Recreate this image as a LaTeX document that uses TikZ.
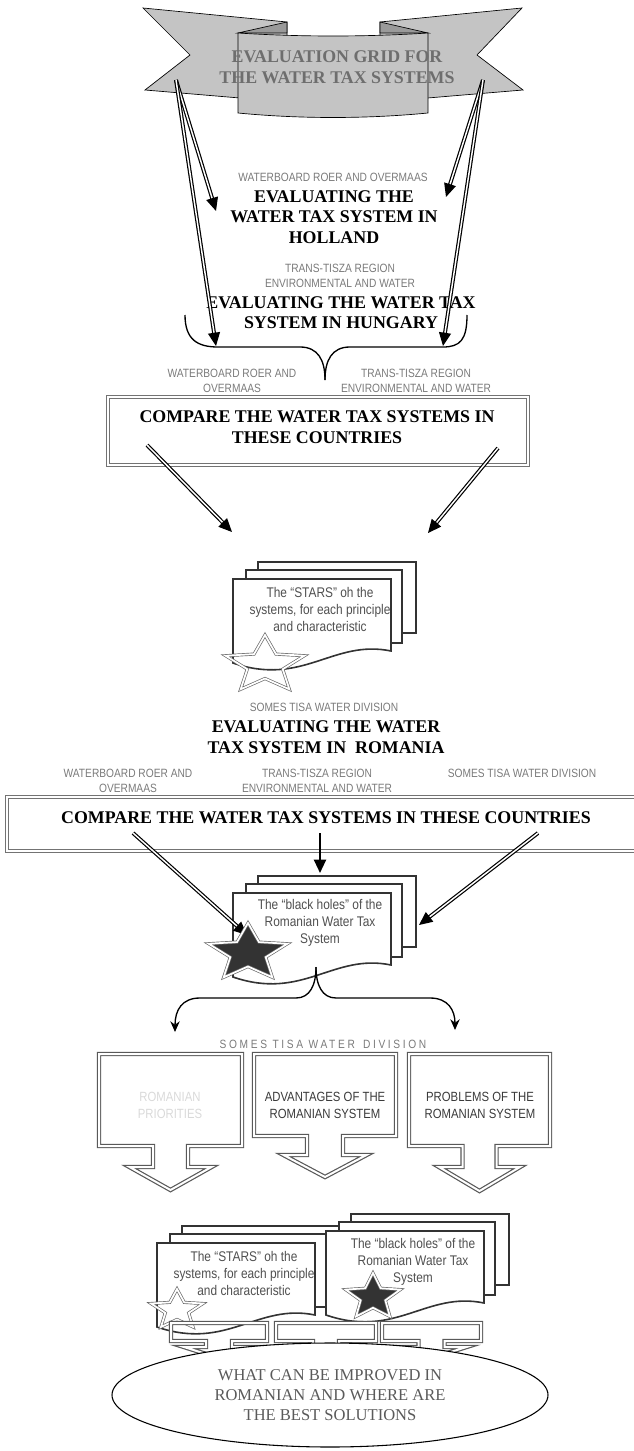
\documentclass[tikz,border=0pt]{standalone}
\usepackage{fontspec}
\setmainfont{Liberation Serif}
\newfontfamily\nsans[FakeStretch=0.85]{Liberation Sans}
\newfontfamily\ssans[FakeStretch=0.85,LetterSpace=22]{Liberation Sans}
\usetikzlibrary{arrows.meta,calc,shapes.geometric}
\definecolor{lblgray}{HTML}{7A7A7A}
\definecolor{docgray}{HTML}{505050}
\definecolor{sheetgray}{HTML}{333333}
\definecolor{bfill}{HTML}{C4C4C4}
\definecolor{bfold}{HTML}{9A9A9A}
\definecolor{btext}{HTML}{6E6E6E}
\definecolor{calltext}{HTML}{3A3A3A}
\definecolor{lighttext}{HTML}{D9D9D9}
\definecolor{elltext}{HTML}{5A5A5A}
\newcommand\dblarrow[2]{\draw[dbl] (#1) -- ($(#2)!8pt!(#1)$); \draw[ahead] ($(#2)!10pt!(#1)$) -- (#2);}
\newcommand\docstack[2]{%
  \begin{scope}[shift={(#1,#2)}]
    \draw[sheet] (25,-17) rectangle (183,54);
    \draw[sheet] (13,-9) rectangle (169,64);
    \draw[sheet] (0,0) -- (158,0) -- (158,72) .. controls (100,60) and (70,108) .. (0,84) -- cycle;
  \end{scope}}
\newcommand\mystar[5]{%
  \begin{scope}[shift={(#1,#2)},xscale=#4]
    \draw[#5] (270:#3) -- (306:{0.45*#3}) -- (342:#3) -- (18:{0.45*#3}) -- (54:#3) -- (90:{0.45*#3}) -- (126:#3) -- (162:{0.45*#3}) -- (198:#3) -- (234:{0.45*#3}) -- cycle;
  \end{scope}}
% cx, top, boxbottom, stembottom, tip, halfw, stemhalf, headhalf
\newcommand\callout[8]{%
  \draw[callst] ({#1-#6},#2) -- ({#1+#6},#2) -- ({#1+#6},#3) -- ({#1+#7},#3) -- ({#1+#7},#4) -- ({#1+#8},#4) -- (#1,#5) -- ({#1-#8},#4) -- ({#1-#7},#4) -- ({#1-#7},#3) -- ({#1-#6},#3) -- cycle;}
\begin{document}
\begin{tikzpicture}[x=0.75pt,y=-0.75pt,
  hdg/.style={font=\bfseries\fontsize{13.4}{15.4}\selectfont, align=center, inner sep=0pt},
  lbl/.style={font=\nsans\fontsize{9}{11.25}\selectfont, text=lblgray, align=center, inner sep=0pt},
  doctxt/.style={font=\nsans\fontsize{10.5}{12.75}\selectfont, text=docgray, align=center, inner sep=0pt},
  calltxt/.style={font=\nsans\fontsize{10}{12.75}\selectfont, text=calltext, align=center, inner sep=0pt},
  dbl/.style={draw=black, line width=0.9pt, double=white, double distance=1.1pt},
  ahead/.style={-{Triangle[length=10pt,width=9pt]}, line width=0.9pt},
  sheet/.style={draw=sheetgray, line width=1.2pt, fill=white},
  boxdbl/.style={draw=black!55, line width=0.6pt, double=white, double distance=1.8pt},
  callst/.style={draw=black!65, line width=0.9pt, double=white, double distance=1.5pt, line join=miter},
  wstar/.style={draw=black!60, line width=0.5pt, double=white, double distance=1.3pt},
  bstar/.style={wstar, fill=black!80},
  brc/.style={draw=black, line width=1pt}
]
\useasboundingbox (0,0) rectangle (633,1451);

% ---------- banner ----------
\filldraw[fill=bfill, draw=black, line width=0.5pt] (143,8) -- (287,22) -- (287,102) -- (145,90) -- (190,55) -- cycle;
\filldraw[fill=bfill, draw=black, line width=0.5pt] (522,8) -- (380,22) -- (380,102) -- (523,90) -- (477,55) -- cycle;
\filldraw[fill=bfold, draw=black, line width=0.5pt] (238,33) -- (287,22) -- (287,33) -- cycle;
\filldraw[fill=bfold, draw=black, line width=0.5pt] (428,33) -- (380,22) -- (380,33) -- cycle;
\filldraw[fill=bfill, draw=black, line width=0.5pt] (238,33) .. controls (300,37) and (366,37) .. (428,33) -- (428,113) .. controls (366,119) and (300,119) .. (238,113) -- cycle;
\node[hdg, text=btext] (bannertxt) at (337,67) {EVALUATION GRID FOR\\THE WATER TAX SYSTEMS};

% ---------- Holland / Hungary ----------
\node[lbl] (wb1) at (333,177) {WATERBOARD ROER AND OVERMAAS};
\node[hdg] (holland) at (334,217) {EVALUATING THE\\WATER TAX SYSTEM IN\\HOLLAND};
\node[lbl] (tt1) at (340,275.5) {TRANS-TISZA REGION\\ENVIRONMENTAL AND WATER};
\node[hdg] (hungary) at (341,312.5) {EVALUATING THE WATER TAX\\SYSTEM IN HUNGARY};

\draw[brc] (185,315) .. controls (185,340) and (198,347) .. (218,347) -- (300,347) .. controls (318,347) and (325,360) .. (325,380);
\draw[brc] (325,380) .. controls (325,360) and (332,347) .. (350,347) -- (443,347) .. controls (460,347) and (467,340) .. (467,315);

\coordinate (bl) at (176,80); \coordinate (br) at (483,80);
\coordinate (hl) at (216,211); \coordinate (hr) at (446,197);
\coordinate (gl) at (216,346); \coordinate (gr) at (443,346);
\dblarrow{bl}{hl}
\dblarrow{bl}{gl}
\dblarrow{br}{hr}
\dblarrow{br}{gr}

\node[lbl] (wb2) at (232,380.5) {WATERBOARD ROER AND\\OVERMAAS};
\node[lbl] (tt2) at (416,380.5) {TRANS-TISZA REGION\\ENVIRONMENTAL AND WATER};

% ---------- compare box 1 ----------
\draw[boxdbl] (108,397) rectangle (528,465);
\node[hdg] (cmp1) at (317,427) {COMPARE THE WATER TAX SYSTEMS IN\\THESE COUNTRIES};
\coordinate (c1l) at (147,445); \coordinate (c1r) at (498,448);
\coordinate (d1l) at (232,532); \coordinate (d1r) at (428,533);
\dblarrow{c1l}{d1l}
\dblarrow{c1r}{d1r}

% ---------- doc stack 1 ----------
\docstack{233}{579}
\node[doctxt] (stars1) at (320,609.5) {The “STARS” oh the\\systems, for each principle\\and characteristic};
\mystar{265}{665}{30}{1.38}{wstar}

% ---------- Romania ----------
\node[lbl] (sm1) at (324,707) {SOMES TISA WATER DIVISION};
\node[hdg] (romania) at (326,737) {EVALUATING THE WATER\\TAX SYSTEM IN\ \ ROMANIA};
\node[lbl] (wb3) at (128,780.5) {WATERBOARD ROER AND\\OVERMAAS};
\node[lbl] (tt3) at (317,780.5) {TRANS-TISZA REGION\\ENVIRONMENTAL AND WATER};
\node[lbl] (sm2) at (522,773) {SOMES TISA WATER DIVISION};

% ---------- compare box 2 ----------
\draw[boxdbl] (7,797) rectangle (648,851);
\node[hdg] (cmp2) at (326,818) {COMPARE THE WATER TAX SYSTEMS IN THESE COUNTRIES};

% ---------- doc stack 2 ----------
\docstack{233}{893}
\node[doctxt] (holes1) at (320,923) {The “black holes” of the\\Romanian Water Tax\\System};

\coordinate (c2l) at (133,833); \coordinate (c2m) at (320,833); \coordinate (c2r) at (538,833);
\coordinate (d2l) at (247,935); \coordinate (d2m) at (320,873); \coordinate (d2r) at (419,925);
\dblarrow{c2l}{d2l}
\dblarrow{c2r}{d2r}
\draw[ahead, line width=1.6pt] (c2m) -- (d2m);
\mystar{248}{953}{30}{1.38}{bstar}

% ---------- split ----------
\coordinate (split) at (316,967);
\coordinate (pl) at (175,1032); \coordinate (pr) at (455,1030);
\draw[brc, -{Stealth[length=8pt,width=7pt]}] (split) .. controls (316,985) and (310,998) .. (296,998) -- (200,998) .. controls (182,998) and (175,1010) .. (pl);
\draw[brc, -{Stealth[length=8pt,width=7pt]}] (split) .. controls (316,985) and (322,998) .. (336,998) -- (430,998) .. controls (448,998) and (455,1010) .. (pr);

\node[font=\ssans\fontsize{9}{11}\selectfont, text=lblgray, inner sep=0pt] (sm3) at (323,1044) {SOMES TISA WATER\hspace{2pt} DIVISION};

% ---------- callouts ----------
\callout{170.5}{1054}{1146}{1167}{1190}{71.5}{17.5}{41}
\callout{325}{1054}{1136}{1155}{1177}{71}{18}{41.5}
\callout{479.5}{1054}{1146}{1167}{1191}{70.5}{17}{40.5}
\node[calltxt, text=lighttext] (prio) at (170,1105.5) {ROMANIAN\\PRIORITIES};
\node[calltxt] (adv) at (325,1105.5) {ADVANTAGES OF THE\\ROMANIAN SYSTEM};
\node[calltxt] (prob) at (480,1105.5) {PROBLEMS OF THE\\ROMANIAN SYSTEM};

% ---------- bottom stacks ----------
\docstack{157}{1243}
\docstack{326}{1231}
\node[doctxt] (stars2) at (244,1273.5) {The “STARS” oh the\\systems, for each principle\\and characteristic};
\node[doctxt] (holes2) at (413,1261.5) {The “black holes” of the\\Romanian Water Tax\\System};
\mystar{177}{1310}{21}{1.3}{wstar}
\mystar{373}{1297}{24}{1.2}{bstar}

\callout{219}{1323}{1341}{1347}{1358}{48}{13}{35}
\callout{326}{1323}{1341}{1347}{1358}{50}{13}{35}
\callout{431.5}{1323}{1341}{1347}{1358}{49.5}{13}{35}

% ---------- goal ellipse ----------
\node[ellipse, draw=black, line width=0.8pt, fill=white, minimum width=327pt, minimum height=78pt, inner sep=0pt,
      font=\fontsize{12.4}{15}\selectfont, text=elltext, align=center] (goal) at (330,1395)
      {WHAT CAN BE IMPROVED IN\\ROMANIAN AND WHERE ARE\\THE BEST SOLUTIONS};
\end{tikzpicture}
\end{document}
